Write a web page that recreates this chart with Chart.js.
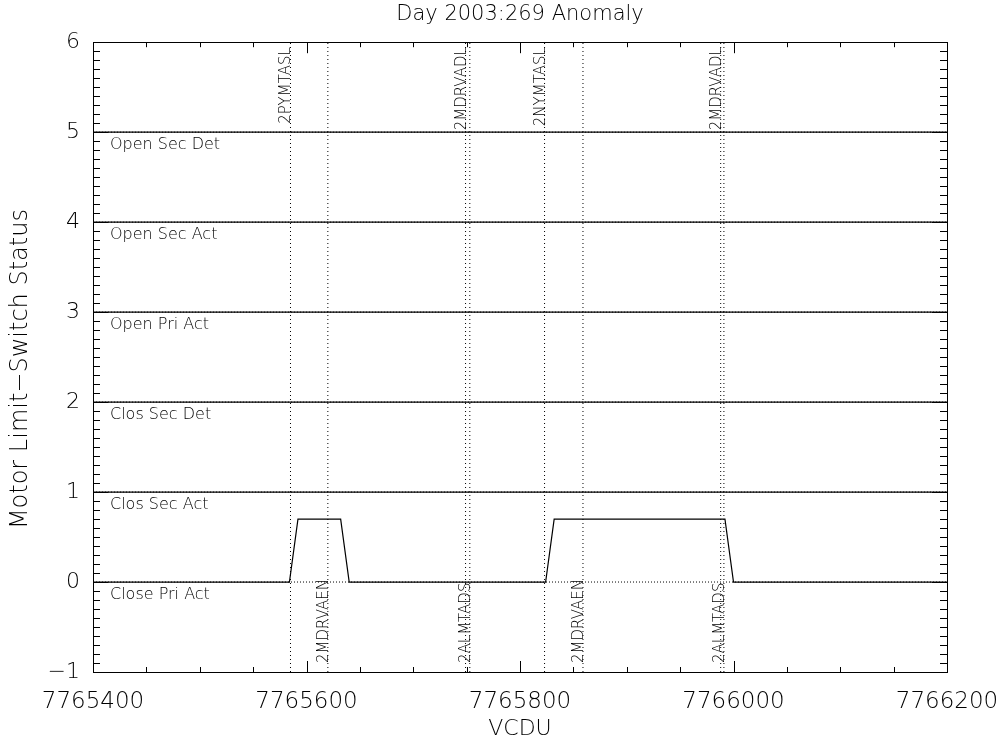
<!DOCTYPE html>
<html>
<head>
<meta charset="utf-8">
<script src="https://cdn.jsdelivr.net/npm/chart.js@4/dist/chart.umd.min.js"></script>
<style>
  body { margin: 0; background: #fff; }
  #wrap { width: 1005px; height: 743px; }
</style>
</head>
<body>
<div id="wrap"><canvas id="anomalyChart" width="1005" height="743"></canvas></div>
<script>
// sample times (VCDU) and the switch status bits
const vcdu = [7765400, 7765584, 7765592, 7765632, 7765640, 7765824, 7765832, 7765992, 7766000, 7766200];
const closePriAct = [0, 0, 0.7, 0.7, 0, 0, 0.7, 0.7, 0, 0];
const closSecAct  = [0, 0, 0, 0, 0, 0, 0, 0, 0, 0];
const closSecDet  = [0, 0, 0, 0, 0, 0, 0, 0, 0, 0];
const openPriAct  = [0, 0, 0, 0, 0, 0, 0, 0, 0, 0];
const openSecAct  = [0, 0, 0, 0, 0, 0, 0, 0, 0, 0];
const openSecDet  = [0, 0, 0, 0, 0, 0, 0, 0, 0, 0];

const statusNames = ["Close Pri Act", "Clos Sec Act", "Clos Sec Det", "Open Pri Act", "Open Sec Act", "Open Sec Det"];
const statusSeries = [closePriAct, closSecAct, closSecDet, openPriAct, openSecAct, openSecDet];

// command events (labels above / below the traces)
const topEventNames = ["2PYMTASL", "2MDRVADL", "2NYMTASL", "2MDRVADL"];
const topEventVcdu  = [7765585, 7765749, 7765823, 7765988];
const bottomEventNames = ["2MDRVAEN", "2ALMTADS", "2MDRVAEN", "2ALMTADS"];
const bottomEventVcdu  = [7765620, 7765753, 7765859, 7765991];

// axes
const xMin = 7765400, xMax = 7766200, xStep = 200, xMinor = 50;
const yMin = -1, yMax = 6, yStep = 1, yMinor = 0.1;

const FONT = "'DejaVu Sans', sans-serif";
const INK = "#000";

const datasets = [];

// dotted reference line for each status level
statusSeries.forEach(function (s, i) {
    datasets.push({
        data: [{ x: xMin, y: i }, { x: xMax, y: i }],
        borderColor: "#000",
        borderWidth: 1,
        borderDash: [1, 2],
        pointRadius: 0
    });
});

// vertical event markers
topEventVcdu.concat(bottomEventVcdu).forEach(function (v) {
    datasets.push({
        data: [{ x: v, y: yMin }, { x: v, y: yMax }],
        borderColor: "#000",
        borderWidth: 1,
        borderDash: [1, 3],
        pointRadius: 0
    });
});

// status traces, offset by level
statusSeries.forEach(function (s, i) {
    datasets.push({
        label: statusNames[i],
        data: vcdu.map(function (x, k) { return { x: x, y: i + s[k] }; }),
        borderColor: "#000",
        borderWidth: 1.2,
        pointRadius: 0,
        tension: 0
    });
});

const idlDecor = {
    id: "idlDecor",
    afterDraw: function (chart) {
        const ctx = chart.ctx;
        const a = chart.chartArea;
        const xs = chart.scales.x;
        const ys = chart.scales.y;

        ctx.save();
        ctx.strokeStyle = "#000";
        ctx.lineWidth = 1;

        // frame
        ctx.strokeRect(Math.round(a.left) + 0.5, Math.round(a.top) + 0.5,
            Math.round(a.right - a.left), Math.round(a.bottom - a.top));

        // inward ticks, bottom and top
        ctx.beginPath();
        for (let v = xMin; v <= xMax; v += xMinor) {
            const px = Math.round(xs.getPixelForValue(v)) + 0.5;
            const len = (v - xMin) % xStep === 0 ? 11 : 5;
            ctx.moveTo(px, a.bottom); ctx.lineTo(px, a.bottom - len);
            ctx.moveTo(px, a.top); ctx.lineTo(px, a.top + len);
        }
        // inward ticks, left and right
        const nMinor = Math.round((yMax - yMin) / yMinor);
        for (let k = 0; k <= nMinor; k++) {
            const v = yMin + k * yMinor;
            const py = Math.round(ys.getPixelForValue(v)) + 0.5;
            const len = k % 10 === 0 ? 15 : 7;
            ctx.moveTo(a.left, py); ctx.lineTo(a.left + len, py);
            ctx.moveTo(a.right, py); ctx.lineTo(a.right - len, py);
        }
        ctx.stroke();

        // status names under each level
        ctx.fillStyle = INK;
        ctx.font = "200 16px " + FONT;
        ctx.textAlign = "left";
        ctx.textBaseline = "top";
        statusNames.forEach(function (name, i) {
            ctx.fillText(name, a.left + 17, ys.getPixelForValue(i) + 5);
        });

        // rotated event labels
        ctx.font = "200 15px " + FONT;
        ctx.textBaseline = "alphabetic";
        topEventNames.forEach(function (name, i) {
            const px = xs.getPixelForValue(topEventVcdu[i]);
            ctx.save();
            ctx.translate(px, a.top + 5);
            ctx.rotate(-Math.PI / 2);
            ctx.textAlign = "right";
            ctx.fillText(name, 0, 0);
            ctx.restore();
        });
        bottomEventNames.forEach(function (name, i) {
            const px = xs.getPixelForValue(bottomEventVcdu[i]);
            ctx.save();
            ctx.translate(px, a.bottom - 9);
            ctx.rotate(-Math.PI / 2);
            ctx.textAlign = "left";
            ctx.fillText(name, 0, 0);
            ctx.restore();
        });
        ctx.restore();
    }
};

const anomalyChart = new Chart(document.getElementById("anomalyChart").getContext("2d"), {
    type: "line",
    data: { datasets: datasets },
    plugins: [idlDecor],
    options: {
        responsive: false,
        animation: false,
        layout: { padding: { left: 0, right: 58, top: 0, bottom: 0 } },
        plugins: {
            legend: { display: false },
            tooltip: { enabled: false },
            title: {
                display: true,
                fullSize: false,
                text: "Day 2003:269 Anomaly",
                color: INK,
                font: { family: FONT, size: 21, weight: 200 },
                padding: { top: 2, bottom: 15 }
            }
        },
        scales: {
            x: {
                type: "linear",
                min: xMin,
                max: xMax,
                grid: { display: false, drawTicks: false },
                border: { display: false },
                ticks: {
                    stepSize: xStep,
                    padding: 16,
                    color: INK,
                    font: { family: FONT, size: 23, weight: 200 },
                    maxRotation: 0,
                    callback: function (v) { return String(v); }
                },
                title: {
                    display: true,
                    text: "VCDU",
                    color: INK,
                    font: { family: FONT, size: 22, weight: 200 },
                    padding: { top: 0, bottom: 1 }
                },
                afterFit: function (scale) {
                    scale.height = 71;
                    scale.paddingLeft = 0;
                    scale.paddingRight = 0;
                }
            },
            y: {
                min: yMin,
                max: yMax,
                grid: { display: false, drawTicks: false },
                border: { display: false },
                ticks: {
                    stepSize: yStep,
                    padding: 13,
                    color: INK,
                    font: { family: FONT, size: 22, weight: 200 },
                    callback: function (v) { return v < 0 ? "\u2212" + Math.abs(v) : String(v); }
                },
                title: {
                    display: true,
                    text: "Motor Limit\u2212Switch Status\u2002\u2002",
                    color: INK,
                    font: { family: FONT, size: 24, weight: 200 },
                    padding: { top: 6, bottom: 0 }
                },
                afterFit: function (scale) {
                    scale.width = 93;
                    scale.paddingTop = 0;
                    scale.paddingBottom = 0;
                }
            }
        }
    }
});
</script>
</body>
</html>
